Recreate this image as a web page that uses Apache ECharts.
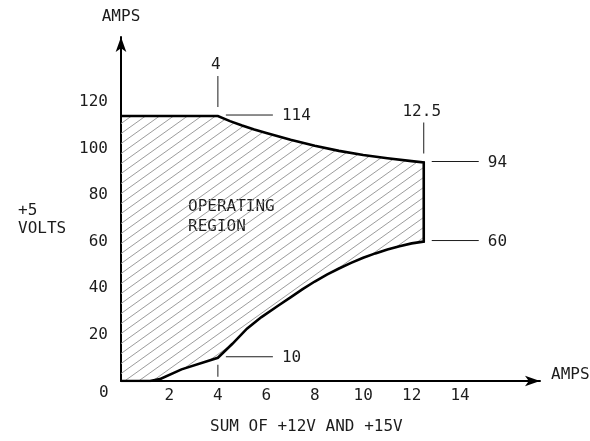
<!DOCTYPE html>
<html>
<head>
<meta charset="utf-8">
<script src="https://cdn.jsdelivr.net/npm/echarts@6/dist/echarts.min.js"></script>
<style>
  html, body { margin: 0; padding: 0; background: #fff; }
  #chart { width: 590px; height: 441px; }
</style>
</head>
<body>
<div id="chart"></div>
<script>
// Axis tick labels
const xTickLabels = [2, 4, 6, 8, 10, 12, 14];
const yTickLabels = [20, 40, 60, 80, 100, 120];

// Upper limit of the +5 V current vs. summed +12 V / +15 V current
const upperX = [0, 4, 4.5, 5, 5.5, 6, 7, 8, 9, 10, 11, 12, 12.5];
const upperY = [114, 114, 111.8, 109.9, 108.2, 106.7, 103.8, 101.2, 99, 97.2, 95.8, 94.6, 94];

// Lower limit (minimum +5 V load)
const lowerX = [0, 1.2, 1.6, 2.5, 4, 4.6, 5.2, 5.8, 6.5, 7, 7.5, 8, 8.5, 9, 9.5, 10, 10.5, 11, 11.5, 12, 12.5];
const lowerY = [0, 0, 0.8, 5, 10, 16, 22.5, 27.5, 32.5, 36, 39.5, 42.8, 45.8, 48.4, 50.8, 53, 54.9, 56.6, 58, 59.2, 60];

// Corner points called out with their +5 V current
const calloutX = [4, 12.5, 12.5, 4];
const calloutY = [114, 94, 60, 10];

// Corner points called out with their summed current (above the curve)
const topMarkX = [4, 12.5];
const topMarkY = [114, 94];

// Small marker under the lower knee
const lowMarkX = [4];
const lowMarkY = [10];

const FONT = '"DejaVu Sans Mono", "Liberation Mono", monospace';
const INK = '#1c1c1c';

const upperPts = upperX.map((x, i) => [x, upperY[i]]);
const lowerPts = lowerX.map((x, i) => [x, lowerY[i]]);
// closed outline: along the upper limit, down the right edge, back along the lower limit
const outlinePts = upperPts.concat(lowerPts.slice().reverse());

// diagonal hatch tile
function hatchTile() {
  const w = 14, h = 10;
  const c = document.createElement('canvas');
  c.width = w; c.height = h;
  const g = c.getContext('2d');
  g.strokeStyle = '#9c9c9c';
  g.lineWidth = 1;
  for (const k of [-w, 0, w]) {
    g.beginPath();
    g.moveTo(k - w, h * 2);
    g.lineTo(k + 2 * w, -h);
    g.stroke();
  }
  return c;
}
const hatch = { image: hatchTile(), repeat: 'repeat' };

const chart = echarts.init(document.getElementById('chart'), null, { renderer: 'canvas' });

const option = {
  animation: false,
  backgroundColor: '#fff',
  textStyle: { fontFamily: FONT, color: INK },
  grid: { left: 121, right: 50, top: 37, bottom: 60, containLabel: false, outerBoundsMode: 'none' },
  xAxis: {
    type: 'value', min: 0, max: 17.3, interval: 2,
    name: 'AMPS', nameLocation: 'end', nameGap: 11,
    nameTextStyle: { fontFamily: FONT, fontSize: 16, color: INK, verticalAlign: 'bottom', lineHeight: 12 },
    axisLine: { show: true, symbol: ['none', 'arrow'], symbolSize: [8, 15], lineStyle: { color: '#000', width: 2 } },
    axisTick: { show: false },
    splitLine: { show: false },
    axisLabel: {
      margin: 7, fontFamily: FONT, fontSize: 16, color: INK,
      formatter: v => (xTickLabels.includes(v) ? String(v) : '')
    }
  },
  yAxis: {
    type: 'value', min: 0, max: 148, interval: 20,
    name: 'AMPS', nameLocation: 'end', nameGap: 12,
    nameTextStyle: { fontFamily: FONT, fontSize: 16, color: INK },
    axisLine: { show: true, symbol: ['none', 'arrow'], symbolSize: [8, 15], lineStyle: { color: '#000', width: 2 } },
    axisTick: { show: false },
    splitLine: { show: false },
    axisLabel: {
      margin: 13, fontFamily: FONT, fontSize: 16, color: INK,
      formatter: v => (yTickLabels.includes(v) ? String(v) : '')
    }
  },
  series: [
    {
      // hatched operating region
      type: 'custom',
      coordinateSystem: 'cartesian2d',
      silent: true,
      z: 1,
      data: [outlinePts[0]],
      renderItem: (params, api) => ({
        type: 'polygon',
        shape: { points: outlinePts.map(p => api.coord(p)) },
        style: { fill: hatch, stroke: null }
      })
    },
    {
      // boundary of the region
      type: 'line',
      data: outlinePts,
      symbol: 'none',
      z: 3,
      lineStyle: { color: '#000', width: 2.6, join: 'miter' }
    },
    {
      // +5 V current callouts to the right of the corners
      type: 'custom',
      coordinateSystem: 'cartesian2d',
      z: 4,
      data: calloutX.map((x, i) => [x, calloutY[i]]),
      renderItem: (params, api) => {
        const p = api.coord([api.value(0), api.value(1)]);
        return {
          type: 'group',
          children: [
            { type: 'line', shape: { x1: p[0] + 8, y1: p[1] - 1, x2: p[0] + 55, y2: p[1] - 1 },
              style: { stroke: INK, lineWidth: 1 } },
            { type: 'text', x: p[0] + 64, y: p[1],
              style: { text: String(api.value(1)), font: '16px ' + FONT, fill: INK,
                       textAlign: 'left', textVerticalAlign: 'middle' } }
          ]
        };
      }
    },
    {
      // summed-current callouts above the upper corners
      type: 'custom',
      coordinateSystem: 'cartesian2d',
      z: 4,
      data: topMarkX.map((x, i) => [x, topMarkY[i]]),
      renderItem: (params, api) => {
        const p = api.coord([api.value(0), api.value(1)]);
        return {
          type: 'group',
          children: [
            { type: 'line', shape: { x1: p[0], y1: p[1] - 9, x2: p[0], y2: p[1] - 40 },
              style: { stroke: INK, lineWidth: 1 } },
            { type: 'text', x: p[0] - 2, y: p[1] - 51,
              style: { text: String(api.value(0)), font: '16px ' + FONT, fill: INK,
                       textAlign: 'center', textVerticalAlign: 'middle' } }
          ]
        };
      }
    },
    {
      // short tick under the lower knee
      type: 'custom',
      coordinateSystem: 'cartesian2d',
      z: 4,
      data: lowMarkX.map((x, i) => [x, lowMarkY[i]]),
      renderItem: (params, api) => {
        const p = api.coord([api.value(0), api.value(1)]);
        return { type: 'line', shape: { x1: p[0], y1: p[1] + 7, x2: p[0], y2: p[1] + 19 },
                 style: { stroke: INK, lineWidth: 1 } };
      }
    }
  ],
  graphic: [
    { type: 'text', left: 18, top: 203, style: { text: '+5', font: '16px ' + FONT, fill: INK } },
    { type: 'text', left: 18, top: 221, style: { text: 'VOLTS', font: '16px ' + FONT, fill: INK } },
    { type: 'text', left: 188, top: 199, style: { text: 'OPERATING', font: '16px ' + FONT, fill: INK } },
    { type: 'text', left: 188, top: 219, style: { text: 'REGION', font: '16px ' + FONT, fill: INK } },
    { type: 'text', left: 210, top: 419, style: { text: 'SUM OF +12V AND +15V', font: '16px ' + FONT, fill: INK } }
  ]
};

chart.setOption(option);

// shared origin label, placed just below-left of the axes' crossing
const origin = chart.convertToPixel({ gridIndex: 0 }, [0, 0]);
chart.setOption({
  graphic: option.graphic.concat([
    { type: 'text', x: origin[0] - 22, y: origin[1] + 4,
      style: { text: '0', font: '16px ' + FONT, fill: INK } }
  ])
});
</script>
</body>
</html>
